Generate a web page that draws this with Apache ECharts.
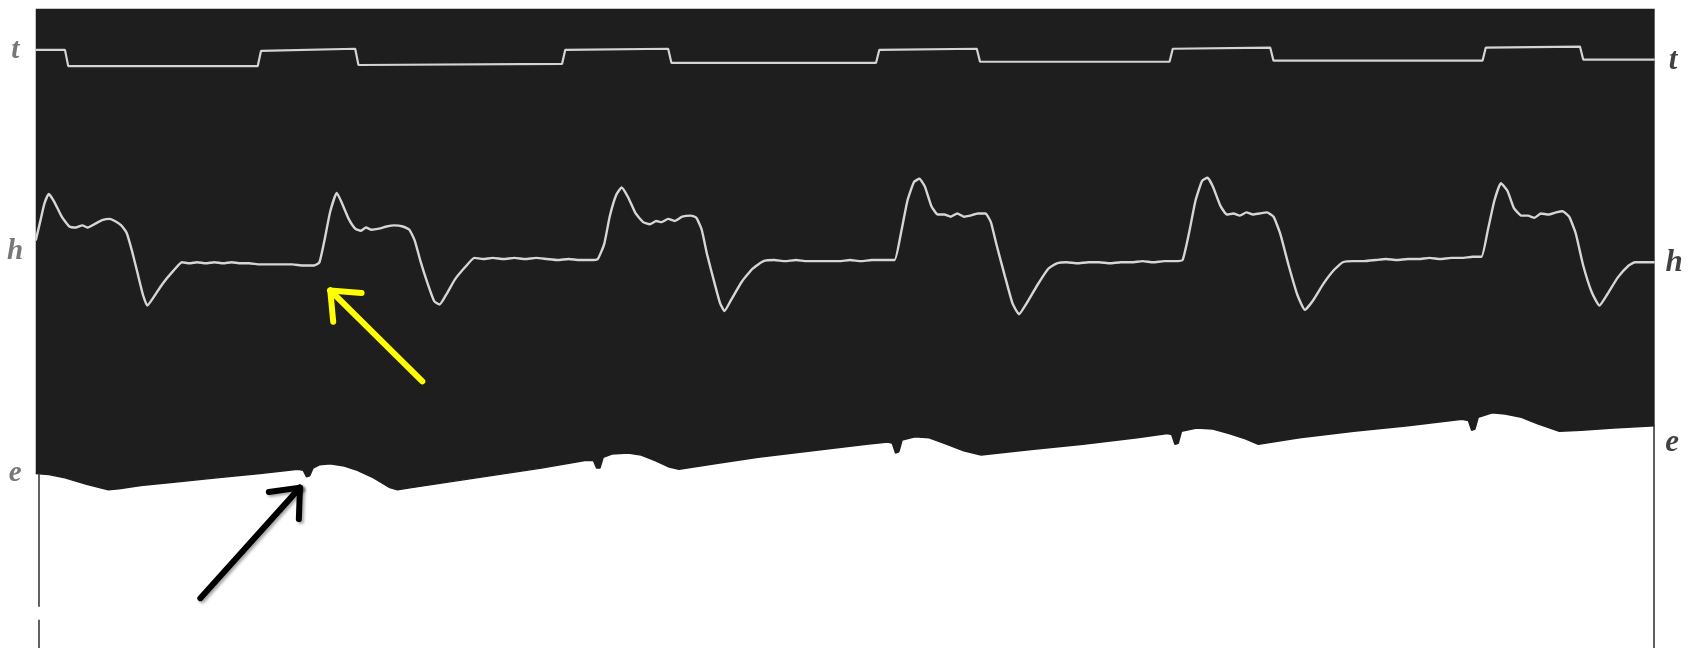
<!DOCTYPE html>
<html>
<head>
<meta charset="utf-8">
<script src="https://cdn.jsdelivr.net/npm/echarts@6/dist/echarts.min.js"></script>
<style>
html,body{margin:0;padding:0;background:#fff;}
#chart{width:1698px;height:648px;}
</style>
</head>
<body>
<div id="chart"></div>
<script>
// Trace coordinates read from the record (x: position along the drum, y: height from top of the record, both in record units)
const timeTrace = [[33,46],[60,46],[63,61],[238,61],[241,47],[328,45],[331,60],[519,59],[522,46],[617,45],[620,58],[809,58],[812,46],[902,45],[905,57],[1080,57],[1083,45],[1173,44],[1176,56],[1369,56],[1372,44],[1459,43],[1462,55],[1528,55]];

const heartTrace = [
[33,222],[37,205],[41,188],[45,179],[50,186],[57,200],[64,209],[70,210],[76,208],[81,210],[87,207],[95,203],[101,202],[106,204],[112,208],[117,215],[122,232],[127,252],[132,272],[136,282],[142,274],[150,262],[160,250],[168,242],[175,243],[182,242],[190,243],[198,242],[206,243],[214,242],[222,243],[230,243],[240,244],[250,244],[260,244],[270,244],[280,245],[290,245],[295,242],
[300,220],[305,195],[311,178],[316,188],[322,202],[328,211],[333,213],[338,210],[343,212],[350,211],[357,209],[364,208],[372,209],[378,212],[383,222],[388,240],[395,262],[401,278],[406,281],[412,272],[420,258],[430,246],[438,238],[446,239],[455,238],[465,239],[475,238],[485,239],[495,238],[505,239],[515,240],[525,239],[535,240],[545,240],[552,239],
[558,225],[563,200],[569,180],[574,173],[580,182],[587,197],[594,205],[600,207],[606,204],[611,205],[617,202],[623,204],[630,200],[638,199],[643,201],[648,212],[653,235],[660,262],[665,280],[669,287],[675,277],[685,260],[695,248],[705,241],[715,240],[725,241],[735,240],[745,241],[755,241],[765,241],[775,241],[785,240],[795,241],[805,240],[815,240],[826,240],
[832,215],[838,185],[844,168],[849,165],[854,172],[860,190],[866,198],[872,198],[878,200],[884,197],[890,200],[896,199],[903,197],[910,197],[915,205],[920,225],[928,255],[935,280],[941,290],[948,280],[958,263],[968,248],[976,243],[985,242],[995,243],[1005,242],[1015,242],[1025,243],[1035,242],[1045,242],[1055,241],[1065,242],[1075,241],[1085,241],[1092,240],
[1098,215],[1104,185],[1110,167],[1115,164],[1120,172],[1127,190],[1133,198],[1139,197],[1145,199],[1151,196],[1157,198],[1163,197],[1170,196],[1176,200],[1182,215],[1190,245],[1198,272],[1205,286],[1212,278],[1222,262],[1232,249],[1240,242],[1250,241],[1260,241],[1270,240],[1280,239],[1290,240],[1300,239],[1310,239],[1320,238],[1330,239],[1340,238],[1350,238],[1360,237],[1368,237],
[1374,212],[1380,185],[1386,169],[1392,176],[1398,192],[1405,199],[1411,199],[1417,201],[1423,197],[1430,198],[1437,196],[1443,195],[1449,200],[1455,215],[1462,245],[1470,270],[1477,282],[1484,272],[1494,256],[1504,245],[1510,242],[1520,242],[1528,242]
];

const edgeTrace = [[33,437],[45,438],[60,441],[80,447],[100,452],[110,451],[130,448],[160,445],[200,441],[240,437],[275,433],[280,434],[283,440],[286,439],[289,432],[295,429],[305,428],[318,430],[330,434],[345,441],[360,450],[367,452],[380,450],[420,444],[460,438],[500,432],[540,425],[548,425],[551,432],[554,432],[557,422],[565,419],[580,418],[592,420],[605,425],[618,431],[627,433],[660,428],[700,422],[750,416],[800,410],[820,408],[824,409],[827,418],[830,417],[833,406],[845,403],[858,404],[872,409],[890,416],[906,420],[950,415],[1000,410],[1050,404],[1078,400],[1082,401],[1085,410],[1088,409],[1091,398],[1105,395],[1120,396],[1135,400],[1150,405],[1162,410],[1200,404],[1250,398],[1300,393],[1350,387],[1356,388],[1359,397],[1362,396],[1365,385],[1378,381],[1390,382],[1405,385],[1420,391],[1440,398],[1460,397],[1490,395],[1528,393]];

const recordTop = 8;

const traceLabels = [[14,47,'t'],[14,232,'h'],[14,437,'e']];
const traceLabelsRight = [[1545,56,'t'],[1546,243,'h'],[1544,409,'e']];

// annotation arrows: [tailX, tailY, headX, headY]
const yellowArrow = [390,352,305,268];
const blackArrow = [185,552,277,450];

// supporting vertical lines below the record
const guideLines = [[[36,437],[36,560]],[[36,572],[36,598]],[[1527,393],[1527,598]]];

function arrowSegments(a){
  const [tx,ty,hx,hy]=a;
  const dx=tx-hx, dy=ty-hy, L=Math.hypot(dx,dy);
  const ux=dx/L, uy=dy/L, len=29, ang=40*Math.PI/180;
  const c=Math.cos(ang), s=Math.sin(ang);
  const p1=[hx+len*(ux*c-uy*s), hy+len*(ux*s+uy*c)];
  const p2=[hx+len*(ux*c+uy*s), hy+len*(-ux*s+uy*c)];
  return [{coords:[[tx,ty],[hx,hy]]},{coords:[[hx,hy],p1]},{coords:[[hx,hy],p2]}];
}

const chart = echarts.init(document.getElementById('chart'), null, {renderer:'canvas'});
const labelFont = {fontFamily:'Liberation Serif', fontStyle:'italic', fontWeight:'bold', fontSize:31};
chart.setOption({
  animation:false,
  backgroundColor:'#ffffff',
  grid:{left:0,right:0,top:0,bottom:0},
  xAxis:{type:'value',min:0,max:1568,show:false},
  yAxis:{type:'value',min:0,max:598,inverse:true,show:false},
  series:[
    {type:'line',name:'record',data:edgeTrace,showSymbol:false,z:1,
     lineStyle:{color:'#1e1e1e',width:1.5},
     areaStyle:{color:'#1e1e1e',opacity:1,origin:'start'}},
    {type:'line',name:'margin',data:[[0,recordTop],[1568,recordTop]],showSymbol:false,z:2,silent:true,
     lineStyle:{width:0,opacity:0},
     areaStyle:{color:'#ffffff',opacity:1,origin:'start'}},
    {type:'line',name:'t',data:timeTrace,showSymbol:false,z:3,
     lineStyle:{color:'#d4d4d4',width:2.2}},
    {type:'line',name:'h',data:heartTrace,showSymbol:false,z:3,smooth:0.15,
     lineStyle:{color:'#d6d6d6',width:2.4}},
    {type:'lines',coordinateSystem:'cartesian2d',z:4,
     data:guideLines.map(g=>({coords:g})),
     lineStyle:{color:'#3a3a3a',width:1.6,opacity:1}},
    {type:'lines',coordinateSystem:'cartesian2d',z:5,
     data:arrowSegments(yellowArrow),
     lineStyle:{color:'#ffff00',width:6,opacity:1,cap:'round'}},
    {type:'lines',coordinateSystem:'cartesian2d',z:5,
     data:arrowSegments(blackArrow),
     lineStyle:{color:'#000000',width:6,opacity:1,cap:'round',shadowColor:'rgba(0,0,0,0.35)',shadowBlur:3,shadowOffsetX:2,shadowOffsetY:2}},
    {type:'scatter',z:6,symbolSize:0,data:traceLabels,
     label:{show:true,position:'inside',formatter:p=>p.data[2],color:'#555',...labelFont,fontSize:29}},
    {type:'scatter',z:6,symbolSize:0,data:traceLabelsRight,
     label:{show:true,position:'inside',formatter:p=>p.data[2],color:'#111',...labelFont}}
  ]
});
</script>
</body>
</html>
